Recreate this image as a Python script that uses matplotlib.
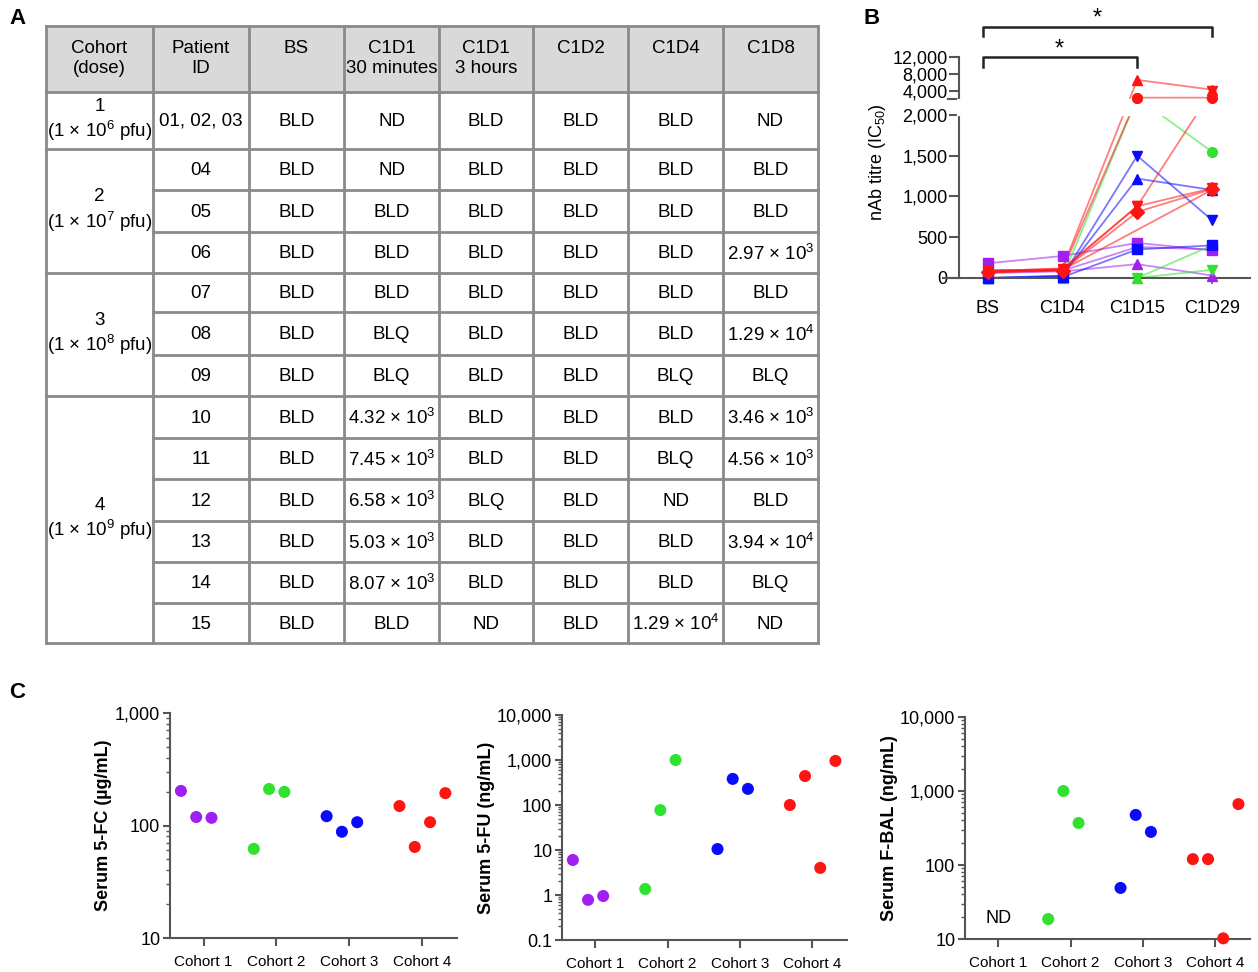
import numpy as np
import matplotlib
matplotlib.use('Agg')
import matplotlib.pyplot as plt
from matplotlib.transforms import blended_transform_factory
from matplotlib.ticker import FixedLocator, LogLocator, NullFormatter

plt.rcParams['font.family'] = ['Liberation Sans', 'DejaVu Sans']
plt.rcParams['mathtext.fontset'] = 'custom'
plt.rcParams['mathtext.rm'] = 'Liberation Sans'
plt.rcParams['mathtext.it'] = 'Liberation Sans:italic'
plt.rcParams['mathtext.bf'] = 'Liberation Sans:bold'

# ---------------- data ----------------
# panel A table
header = ['Cohort\n(dose)', 'Patient\nID', 'BS', 'C1D1\n30 minutes', 'C1D1\n3 hours', 'C1D2', 'C1D4', 'C1D8']
cohort_text = ['1\n(1 × 10$^6$ pfu)', '2\n(1 × 10$^7$ pfu)', '3\n(1 × 10$^8$ pfu)', '4\n(1 × 10$^9$ pfu)']
cohort_rows = [1, 3, 3, 6]
table_rows = [
    ['01, 02, 03', 'BLD', 'ND', 'BLD', 'BLD', 'BLD', 'ND'],
    ['04', 'BLD', 'ND', 'BLD', 'BLD', 'BLD', 'BLD'],
    ['05', 'BLD', 'BLD', 'BLD', 'BLD', 'BLD', 'BLD'],
    ['06', 'BLD', 'BLD', 'BLD', 'BLD', 'BLD', '2.97 × 10$^3$'],
    ['07', 'BLD', 'BLD', 'BLD', 'BLD', 'BLD', 'BLD'],
    ['08', 'BLD', 'BLQ', 'BLD', 'BLD', 'BLD', '1.29 × 10$^4$'],
    ['09', 'BLD', 'BLQ', 'BLD', 'BLD', 'BLQ', 'BLQ'],
    ['10', 'BLD', '4.32 × 10$^3$', 'BLD', 'BLD', 'BLD', '3.46 × 10$^3$'],
    ['11', 'BLD', '7.45 × 10$^3$', 'BLD', 'BLD', 'BLQ', '4.56 × 10$^3$'],
    ['12', 'BLD', '6.58 × 10$^3$', 'BLQ', 'BLD', 'ND', 'BLD'],
    ['13', 'BLD', '5.03 × 10$^3$', 'BLD', 'BLD', 'BLD', '3.94 × 10$^4$'],
    ['14', 'BLD', '8.07 × 10$^3$', 'BLD', 'BLD', 'BLD', 'BLQ'],
    ['15', 'BLD', 'BLD', 'ND', 'BLD', '1.29 × 10$^4$', 'ND'],
]

# panel B nAb titres
timepoints = ['BS', 'C1D4', 'C1D15', 'C1D29']
nab_purple = [[180, 270, 430, 340], [100, 90, 380, 350], [60, 80, 170, 30]]
nab_green = [[0, 10, 2300, 1550], [0, 0, 0, 100], [0, 0, 0, 400]]
nab_blue = [[0, 20, 1500, 710], [0, 30, 1220, 1080], [0, 10, 350, 400]]
nab_red = [[80, 120, 6500, 4200], [80, 100, 2300, 2300], [70, 100, 880, 3900],
           [70, 90, 810, 1090], [90, 110, 880, 1100], [70, 100, np.nan, 1080]]
mk_purple = ['s', 'o', '^']
mk_green = ['o', 'v', '^']
mk_blue = ['v', '^', 's']
mk_red = ['^', 'o', 'v', 'D', 'v', 'o']

# panel C serum levels
cohorts = ['Cohort 1', 'Cohort 2', 'Cohort 3', 'Cohort 4']
fc_vals = [[203, 119, 117], [62, 211, 199], [121, 88, 107], [149, 64.5, 107, 194]]
fu_vals = [[6.0, 0.78, 0.95], [1.36, 77, 1000], [10.5, 380, 228], [100, 440, 4.0, 955]]
bal_vals = [[], [18.6, 1000, 370], [49, 475, 280], [120, 120, 10.2, 665]]

PURPLE, GREEN, BLUE, RED = '#a020f0', '#2ee22e', '#0a0aff', '#ff1414'
cohort_colors = [PURPLE, GREEN, BLUE, RED]
AX = '#555555'

W, H = 1258, 972
fig = plt.figure(figsize=(W / 100, H / 100), dpi=100)


def px_axes(l, t, r, b):
    return fig.add_axes([l / W, 1 - b / H, (r - l) / W, (b - t) / H])


# ---------------- panel A: table ----------------
tab = fig.add_axes([0, 0, 1, 1], zorder=-1)
tab.set_xlim(0, W)
tab.set_ylim(H, 0)
tab.axis('off')
cols = [46, 153, 249, 344, 439, 533, 628, 723, 818]
rows_y = [92, 149, 190, 232, 273, 312, 355, 396, 438, 479, 521, 562, 603, 643]
top = 26
LC = '#8a8a8a'
tab.fill_between([cols[0], cols[-1]], top, rows_y[0], color='#d9d9d9', lw=0)
for c in cols:
    tab.plot([c, c], [top, rows_y[-1]], color=LC, lw=2)
group_edges = [0]
for n in cohort_rows:
    group_edges.append(group_edges[-1] + n)
for i, y in enumerate([top] + rows_y):
    full = (i == 0) or ((i - 1) in group_edges)
    tab.plot([cols[0] if full else cols[1], cols[-1]], [y, y], color=LC, lw=2)
fs_tab = 13.5
for j, h in enumerate(header):
    tab.text((cols[j] + cols[j + 1]) / 2, 40, h, ha='center', va='top', fontsize=fs_tab, linespacing=1.25)
row_top = rows_y[:-1]
row_bot = rows_y[1:]
for g, txt in enumerate(cohort_text):
    y0 = row_top[group_edges[g]]
    y1 = row_bot[group_edges[g + 1] - 1]
    tab.text((cols[0] + cols[1]) / 2, (y0 + y1) / 2, txt, ha='center', va='center', fontsize=fs_tab,
             linespacing=1.25)
for r, row in enumerate(table_rows):
    yc = (row_top[r] + row_bot[r]) / 2 + 1
    for j, val in enumerate(row):
        tab.text((cols[j + 1] + cols[j + 2]) / 2, yc, val, ha='center', va='center', fontsize=fs_tab)

# ---------------- panel B: nAb titre, broken axis ----------------
BRK, GAP, K = 2000.0, 196.0, 0.052


def fwd(v):
    v = np.asarray(v, float)
    return np.where(v <= BRK, v, BRK + GAP + (v - BRK) * K)


def inv(t):
    t = np.asarray(t, float)
    return np.where(t <= BRK, t, np.where(t < BRK + GAP, BRK, BRK + (t - BRK - GAP) / K))


axb = px_axes(943, 56.6, 1250, 284.5)
axb.set_facecolor('none')
axb.set_yscale('function', functions=(fwd, inv))
axb.set_xlim(-0.6, 3.51)
axb.set_ylim(-80, 12000)
xs = np.arange(len(timepoints))
groups = [(nab_purple, mk_purple, PURPLE), (nab_green, mk_green, GREEN),
          (nab_blue, mk_blue, BLUE), (nab_red, mk_red, RED)]
for series, marks, col in groups:
    for vals, m in zip(series, marks):
        v = np.array(vals, float)
        ok = ~np.isnan(v)
        axb.plot(xs[ok], v[ok], color=col, lw=1.3, alpha=0.55, zorder=2)
        axb.plot(xs[ok], v[ok], ls='none', marker=m, ms=7, color=col, zorder=5, clip_on=False)
# gap of the broken axis
ylo, yhi = fwd(-80), fwd(12000)
g0 = (BRK - ylo) / (yhi - ylo)
g1 = (BRK + GAP - ylo) / (yhi - ylo)
axb.add_patch(plt.Rectangle((0.045, g0 + 0.002), 0.96, g1 - g0 - 0.004, transform=axb.transAxes,
                            color='white', zorder=3, clip_on=False))
XSP = -0.39
for s in ['top', 'right']:
    axb.spines[s].set_visible(False)
axb.spines['left'].set_position(('data', XSP))
axb.spines['left'].set_bounds(0, 2000)
axb.spines['bottom'].set_position(('data', 0))
for s in ['left', 'bottom']:
    axb.spines[s].set_color(AX)
    axb.spines[s].set_linewidth(1.5)
axb.plot([XSP, XSP], [2001, 12000], color=AX, lw=1.5, clip_on=False, zorder=2.5)
axb.plot([XSP - 0.14, XSP], [2001, 2001], color=AX, lw=1.5, clip_on=False, zorder=2.5)
yt = [0, 500, 1000, 1500, 2000, 4000, 8000, 12000]
axb.set_yticks(yt)
axb.set_yticklabels([f'{v:,}' for v in yt])
axb.set_xticks(xs)
axb.set_xticklabels(timepoints)
axb.tick_params(axis='y', direction='out', length=7, width=1.5, color=AX, labelsize=13, pad=1)
axb.tick_params(axis='x', direction='out', length=4, width=1.2, color=AX, labelsize=13, pad=12)
axb.minorticks_off()
fig.text(878 / W, 1 - 162 / H, 'nAb titre (IC$_{50}$)', rotation=90, ha='center', va='center', fontsize=13)

bt = blended_transform_factory(axb.transData, axb.transAxes)
axb.plot([-0.06, -0.06, 3, 3], [1.09, 1.129, 1.129, 1.09], color='#222222', lw=1.8, transform=bt, clip_on=False)
axb.plot([-0.06, -0.06, 2, 2], [0.955, 0.998, 0.998, 0.955], color='#222222', lw=1.8, transform=bt,
         clip_on=False)
axb.text(1.47, 1.165, '*', transform=bt, ha='center', va='center', fontsize=17)
axb.text(0.96, 1.03, '*', transform=bt, ha='center', va='center', fontsize=17)


# ---------------- panel C: serum levels ----------------
def serum_panel(box, values, ymin, ymax, label, labx):
    ax = px_axes(*box)
    ax.set_facecolor('none')
    ax.set_yscale('log')
    ax.set_xlim(-0.46, 3.48)
    ax.set_ylim(ymin, ymax)
    for i, vals in enumerate(values):
        if not vals:
            continue
        x = [i - 0.31 + 0.21 * j for j in range(len(vals))]
        ax.scatter(x, vals, s=75, color=cohort_colors[i], edgecolors='none', zorder=5, clip_on=False)
    for s in ['top', 'right']:
        ax.spines[s].set_visible(False)
    for s in ['left', 'bottom']:
        ax.spines[s].set_color(AX)
        ax.spines[s].set_linewidth(1.5)
    ticks = [10.0 ** k for k in range(int(np.log10(ymin)), int(np.log10(ymax)) + 1)]
    ax.yaxis.set_major_locator(FixedLocator(ticks))
    ax.set_yticklabels([f'{t:,.0f}' if t >= 1 else f'{t:g}' for t in ticks])
    ax.yaxis.set_minor_locator(LogLocator(base=10, subs=np.arange(2, 10)))
    ax.yaxis.set_minor_formatter(NullFormatter())
    ax.set_xticks(range(len(cohorts)))
    ax.set_xticklabels(cohorts)
    ax.tick_params(axis='y', which='major', direction='out', length=5, width=1.5, color=AX, labelsize=13, pad=2)
    ax.tick_params(axis='y', which='minor', direction='out', length=3, width=1, color=AX)
    ax.tick_params(axis='x', direction='out', length=6, width=1.5, color=AX, labelsize=11, pad=6)
    ax.set_ylabel(label, fontsize=13, fontweight='bold')
    ax.yaxis.set_label_coords(labx, 0.5)
    return ax


serum_panel((170, 713, 457, 938), fc_vals, 10, 1000, 'Serum 5-FC (µg/mL)', -0.203)
serum_panel((562, 715, 847, 940), fu_vals, 0.1, 10000, 'Serum 5-FU (ng/mL)', -0.236)
ax3 = serum_panel((965, 717, 1250, 939), bal_vals, 10, 10000, 'Serum F-BAL (ng/mL)', -0.236)
ax3.text(0, 19, 'ND', ha='center', va='center', fontsize=13)

# panel letters
for letter, x, y in [('A', 17, 18), ('B', 872, 18), ('C', 17, 693)]:
    fig.text(x / W, 1 - y / H, letter, ha='center', va='center', fontsize=16, fontweight='bold')

fig.savefig('out.png', dpi=100)
